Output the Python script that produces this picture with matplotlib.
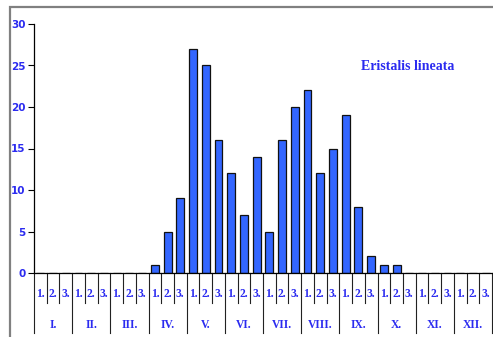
import numpy as np
import matplotlib
matplotlib.use("Agg")
import matplotlib.pyplot as plt
from matplotlib.patches import Rectangle

months = ["I.", "II.", "III.", "IV.", "V.", "VI.", "VII.", "VIII.", "IX.", "X.", "XI.", "XII."]
decades = ["1.", "2.", "3."]
counts = [0, 0, 0,  0, 0, 0,  0, 0, 0,  1, 5, 9,
          27, 25, 16,  12, 7, 14,  5, 16, 20,  22, 12, 15,
          19, 8, 2,  1, 1, 0,  0, 0, 0,  0, 0, 0]
title = "Eristalis lineata"

BLUE_TXT = "#2B2BF0"; BAR = "#3366FF"
W, H = 493, 337

fig = plt.figure(figsize=(W / 100, H / 100), dpi=100)
# grey frame around the chart
fig.patches.append(Rectangle((10 / W, -0.05), 1.0, (H - 7) / H + 0.05, transform=fig.transFigure,
                             fill=False, ec="#808080", lw=1.6))
ax = fig.add_axes([34 / W, (H - 273) / H, (492 - 34) / W, (273 - 24) / H])

n = len(counts)
x = np.arange(n) + 0.5
ax.bar(x, counts, width=0.62, color=BAR, edgecolor="#111111", lw=0.9)
ax.set_xlim(0, n)
ax.set_ylim(0, 30)
ax.set_yticks(range(0, 31, 5))
ax.tick_params(axis="y", direction="out", length=4, width=0.8, pad=2,
               labelsize=7.5, labelcolor=BLUE_TXT)
for lbl in ax.get_yticklabels():
    lbl.set_fontweight("bold")
ax.set_xticks([])
for s in ("top", "right"):
    ax.spines[s].set_visible(False)
ax.spines["left"].set_linewidth(0.9)
ax.spines["bottom"].set_linewidth(0.9)

tr = ax.get_xaxis_transform()
ax_h = 273 - 24
y_dec = -30 / ax_h
y_mon = -60 / ax_h
for i in range(n + 1):
    low = y_mon if i % 3 == 0 else y_dec
    ax.plot([i, i], [0, low], transform=tr, color="#222222", lw=0.8, clip_on=False)
for i in range(n):
    ax.text(i + 0.5, -21 / ax_h, decades[i % 3], transform=tr, ha="center", va="center",
            fontsize=8.3, fontweight="bold", family="Liberation Serif", color=BLUE_TXT)
for m, name in enumerate(months):
    ax.text(3 * m + 1.5, -52 / ax_h, name, transform=tr, ha="center", va="center",
            fontsize=8.3, fontweight="bold", family="Liberation Serif", color=BLUE_TXT)

ax.text(408 / W, (H - 66) / H, title, transform=fig.transFigure, ha="center", va="center",
        fontsize=10, fontweight="bold", family="Liberation Serif", color=BLUE_TXT)

fig.savefig("out.png", dpi=100)
